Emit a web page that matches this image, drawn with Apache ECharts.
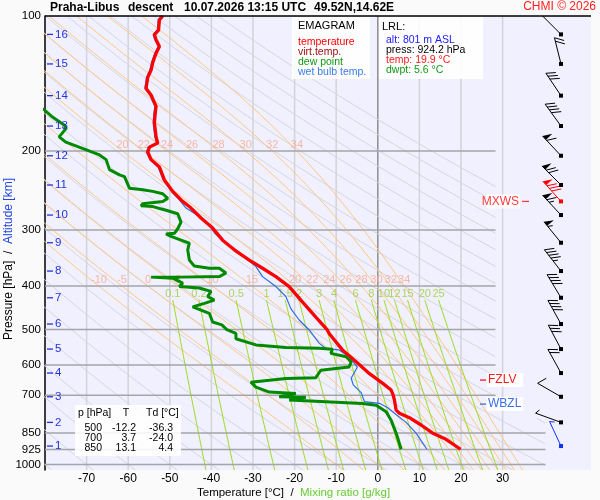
<!DOCTYPE html>
<html lang="en">
<head>
<meta charset="UTF-8">
<title>Emagram Praha-Libus</title>
<script src="https://cdn.jsdelivr.net/npm/echarts@6/dist/echarts.min.js"></script>
<style>
    html, body { margin: 0; padding: 0; background: #fafafa; }
    #chart { width: 600px; height: 500px; }
</style>
</head>
<body>
<div id="chart"></div>
<script>
const pressureTicks = [100, 200, 300, 400, 500, 600, 700, 850, 925, 1000];
const tempTicks = [-70, -60, -50, -40, -30, -20, -10, 0, 10, 20, 30];

// background families of the diagram (parameters)
const dryThetas = [-80, -70, -60, -50, -40, -30, -20, -10, 0, 10, 20, 30, 40, 50, 60, 70, 80, 90, 100, 110, 120, 130, 140, 150, 160, 170, 180];
const moistThetas = [-10, -5, 0, 5, 10, 15, 20, 22, 24, 26, 28, 30, 32, 34];
const moistUpperLabels = [20, 22, 24, 26, 28, 30, 32, 34];
const mixRatios = [0.1, 0.2, 0.5, 1, 1.5, 2, 3, 4, 6, 8, 10, 12, 15, 20, 25];

// profiles: [temperature °C, pressure hPa]
const tempProfile = [[-51.7,100],[-52.5,102],[-52.7,107.5],[-53.7,110],[-53.3,113],[-52.5,117],[-53.3,121],[-54.1,127],[-54.5,132],[-55.3,137],[-55.7,145],[-54.5,150],[-53.3,159],[-53.5,164.5],[-53.7,173],[-53.3,186],[-52.9,192],[-54.9,196],[-55.3,201],[-54.5,209],[-52.5,217],[-51.3,232],[-49.3,246],[-47.3,257],[-44.9,268],[-42.5,282],[-39.7,297],[-37.3,316],[-34.5,332],[-30.9,350],[-27.7,365],[-24.5,381],[-21.3,401],[-18.5,430],[-14.9,469],[-12.2,500],[-11.7,510],[-8.5,555],[-5.2,590],[-2.0,627],[1.2,659],[3.2,682],[3.7,700],[4.0,718],[4.4,756],[5.2,768],[7.6,786],[10.4,816],[13.1,850],[16.4,878],[19.9,924.2]];
const dewProfile = [[-84,155],[-80.1,162],[-78.2,168],[-75.4,175],[-74.9,178],[-76.6,186],[-75.0,191],[-71.8,196],[-66.9,204],[-65.3,209],[-64.5,220],[-62.1,226],[-60.9,228],[-59.7,242],[-56.5,244],[-54.1,246],[-51.7,249],[-50.5,255],[-51.7,259],[-56.5,262],[-56.9,265],[-54.1,266],[-50.9,271],[-48.1,276],[-47.3,288],[-48.1,298],[-48.9,305],[-50.9,306],[-49.7,310],[-47.3,316],[-45.3,321],[-45.7,332],[-45.3,350],[-44.1,361],[-40.5,365],[-38.1,365],[-36.5,374],[-38.1,381],[-47.7,382],[-54.5,382],[-49.3,384],[-46.9,394],[-47.7,401],[-42.9,404],[-40.1,411],[-40.9,422],[-39.3,430],[-41.7,437],[-44.5,445],[-40.5,460],[-39.7,481],[-37.5,488],[-36.3,500],[-34.1,510],[-34.1,524],[-29.3,541],[-22.1,548],[-14.1,550],[-10.9,553],[-11.3,565],[-7.6,575],[-6.4,590],[-6.9,606],[-13.7,616],[-14.5,632],[-14.9,640],[-22.1,643],[-30.5,655],[-29.3,672],[-26.1,689],[-19.7,694],[-23.7,706],[-17.3,708],[-21.3,718],[-3.7,731],[-0.4,737],[2.0,762],[3.2,796],[4.4,850],[5.0,885],[5.6,924.2]];
const wetProfile = [[-52.0,100],[-52.8,102],[-53.0,107.5],[-54.0,110],[-53.6,113],[-52.8,117],[-53.6,121],[-54.4,127],[-54.8,132],[-55.6,137],[-56.0,145],[-54.8,150],[-53.6,159],[-53.8,164.5],[-54.0,173],[-53.6,186],[-53.2,192],[-55.2,196],[-55.6,201],[-54.8,209],[-52.8,217],[-51.6,232],[-49.6,246],[-47.7,257],[-46.1,268],[-42.9,280],[-40.6,292],[-39.2,305],[-36.5,321],[-34.1,332],[-31.7,347],[-29.3,362],[-27.7,381],[-24.5,401],[-22.1,422],[-20.9,449],[-18.9,476],[-16.5,501],[-14.1,536],[-12.5,551],[-9.3,555],[-6.9,575],[-4.9,606],[-6.4,642],[-5.9,664],[-4.0,691],[-3.2,724],[0.4,730],[2.3,746],[4.4,773],[6.8,805],[9.2,851],[11.8,924.2]];

// altitude marks and winds at each km
const heightKm = [16, 15, 14, 13, 12, 11, 10, 9, 8, 7, 6, 5, 4, 3, 2, 1];
const heightP = [109.9, 127.9, 150.5, 175.9, 204.9, 238.1, 277.8, 320.2, 370.3, 424.7, 486, 552.6, 625, 705.9, 805.1, 909.2];
const windDir = [315, 346, 326, 324, 317, 315, 317, 321, 322, 329, 331, 332, 331, 300, 290, 335];
const windKt = [10, 20, 30, 40, 60, 70, 65, 55, 45, 40, 40, 30, 20, 10, 5, 5];

// special levels
const levelNames = ['MXWS', 'FZLV', 'WBZL'];
const levelP = [259, 648, 733];
const levelColors = ['#ff3b3b', '#ff1a1a', '#3a6fe8'];
const mxwsDir = 318, mxwsKt = 80;

// summary table and launch info
const tableP = [500, 700, 850];
const tableT = [-12.2, 3.7, 13.1];
const tableTd = [-36.3, -24.0, 4.4];
const lrlAlt = 801, lrlPress = 924.2, lrlTemp = 19.9, lrlDwpt = 5.6;

// ---------- diagram helpers ----------
const FONT = '"Liberation Sans", Arial, sans-serif';
const T_MIN = -80, T_MAX = 51.25, P_TOP = 100, P_BOT = 1028;
const KAPPA = 0.2857;
const MIX_TOP = 430;

function rightEdge(p) { return p < 790 ? 28.3 : 40.3; }

const samples = [];
for (let i = 0; i <= 240; i++) samples.push(P_TOP * Math.pow(P_BOT / P_TOP, i / 240));

function satVap(tc) { return 6.112 * Math.exp(17.67 * tc / (tc + 243.5)); }
function dTdp(T, p) {
    const es = satVap(T - 273.15);
    const rs = 0.622 * es / (p - es);
    return (287.04 * T + 2.501e6 * rs) / (1005.7 + 2.501e6 * 2.501e6 * rs * 0.622 / (287.04 * T * T)) / p;
}
function moistT(thw, p) {
    let T = thw + 273.15, q = 1000;
    const n = 40, h = (p - 1000) / n;
    for (let i = 0; i < n; i++) {
        const k1 = dTdp(T, q), k2 = dTdp(T + h * k1 / 2, q + h / 2);
        const k3 = dTdp(T + h * k2 / 2, q + h / 2), k4 = dTdp(T + h * k3, q + h);
        T += h * (k1 + 2 * k2 + 2 * k3 + k4) / 6;
        q += h;
    }
    return T - 273.15;
}
function dryT(th, p) { return (th + 273.15) * Math.pow(p / 1000, KAPPA) - 273.15; }
function mixT(w, p) {
    const l = Math.log(w * p / (622 + w) / 6.112);
    return 243.5 * l / (17.67 - l);
}

// split a curve into the parts left of the diagram's right edge
function clipRuns(fn) {
    const runs = [];
    let cur = [], prev = null;
    samples.forEach(p => {
        const t = fn(p), inside = t <= rightEdge(p);
        if (prev && prev.inside !== inside) {
            const fa = prev.t - rightEdge(prev.p), fb = t - rightEdge(p);
            const f = fa / (fa - fb);
            cur.push([prev.t + f * (t - prev.t), prev.p + f * (p - prev.p)]);
            if (!inside) { runs.push(cur); cur = []; }
        }
        if (inside) cur.push([t, p]);
        prev = { p, t, inside };
    });
    if (cur.length > 1) runs.push(cur);
    return runs;
}

function poly(points, color, width, z) {
    return {
        type: 'line', data: points, symbol: 'none', silent: true, z: z,
        lineStyle: { color: color, width: width }, emphasis: { disabled: true }
    };
}

const series = [];
tempTicks.forEach(t => series.push(poly([[t, P_TOP], [t, P_BOT]], t === 0 ? '#8e8e8e' : '#d3d3d9', 1.5, 1)));
dryThetas.forEach(th => clipRuns(p => dryT(th, p)).forEach(r => series.push(poly(r, '#d5d5da', 1, 2))));
moistThetas.forEach(th => clipRuns(p => moistT(th, p)).forEach(r => series.push(poly(r, '#ffc683', 1, 3))));
mixRatios.forEach(w => {
    const pts = [[mixT(w, MIX_TOP), MIX_TOP]];
    samples.filter(p => p > MIX_TOP).forEach(p => pts.push([mixT(w, p), p]));
    series.push(poly(pts, '#9cdb1e', 1, 4));
});
pressureTicks.slice(1).forEach(p => series.push(poly([[T_MIN, p], [rightEdge(p), p]], '#a5a5a8', 1.5, 4)));

// line labels
function labelSeries(data, color) {
    return {
        type: 'scatter', data: data, symbolSize: 1, silent: true, z: 5,
        itemStyle: { color: 'rgba(0,0,0,0)' },
        label: { show: true, position: 'top', distance: 0, formatter: d => String(d.value[2]), color: color, fontSize: 11, fontFamily: FONT }
    };
}
series.push(labelSeries(moistThetas.map(th => [moistT(th, 400), 400, th]), '#f7a98d'));
series.push(labelSeries(moistUpperLabels.map(th => [moistT(th, 200), 200, th]), '#f7a98d'));
series.push(labelSeries(mixRatios.map(w => [mixT(w, MIX_TOP), MIX_TOP, w]), '#9ccc3a'));

// profiles
series.push(poly(wetProfile, '#2a6ee6', 1.2, 10));
series.push(poly(dewProfile, '#008a00', 3, 11));
series.push(poly(tempProfile, '#ff0000', 3.3, 12));

// altitude marks on the left
series.push({
    type: 'custom', silent: true, z: 13,
    data: heightP.map((p, i) => [T_MIN, p, heightKm[i]]),
    renderItem: (params, api) => {
        const pt = api.coord([T_MIN, api.value(1)]);
        return {
            type: 'group', children: [
                { type: 'line', shape: { x1: pt[0] + 2, y1: pt[1], x2: pt[0] + 8, y2: pt[1] }, style: { stroke: '#2233dd', lineWidth: 1.3 } },
                { type: 'text', style: { x: pt[0] + 10, y: pt[1], text: String(api.value(2)), fill: '#2233dd', font: '11.5px ' + FONT, verticalAlign: 'middle' } }
            ]
        };
    }
});

// wind barbs
function barb(bx, by, dir, kt, c) {
    const r = dir * Math.PI / 180, ux = Math.sin(r), uy = -Math.cos(r);
    const px = -uy, py = ux;
    const vx = 0.866 * px - 0.5 * ux, vy = 0.866 * py - 0.5 * uy;
    const L = 27, tx = bx + ux * L, ty = by + uy * L;
    const kids = [
        { type: 'line', shape: { x1: bx, y1: by, x2: tx, y2: ty }, style: { stroke: c, lineWidth: 1 } },
        { type: 'rect', shape: { x: bx - 2, y: by - 2, width: 4, height: 4 }, style: { fill: c } }
    ];
    let s = kt, pos = 0;
    while (s >= 50) {
        const ax = tx - ux * pos, ay = ty - uy * pos;
        kids.push({ type: 'polygon', shape: { points: [[ax, ay], [ax - ux * 5, ay - uy * 5], [ax + vx * 10, ay + vy * 10]] }, style: { fill: c } });
        pos += 6; s -= 50;
    }
    while (s >= 10) {
        const ax = tx - ux * pos, ay = ty - uy * pos;
        kids.push({ type: 'line', shape: { x1: ax, y1: ay, x2: ax + vx * 10, y2: ay + vy * 10 }, style: { stroke: c, lineWidth: 1 } });
        pos += 3.5; s -= 10;
    }
    if (s >= 5) {
        const ax = tx - ux * pos, ay = ty - uy * pos;
        kids.push({ type: 'line', shape: { x1: ax, y1: ay, x2: ax + vx * 5, y2: ay + vy * 5 }, style: { stroke: c, lineWidth: 1 } });
    }
    return kids;
}
const barbColors = ['#000000', '#ff0000', '#1030ff'];
const barbRows = heightP.map((p, i) => [T_MAX, p, windDir[i], windKt[i], i === heightP.length - 1 ? 2 : 0]);
barbRows.push([T_MAX, levelP[0], mxwsDir, mxwsKt, 1]);
series.push({
    type: 'custom', silent: true, z: 14, clip: true,
    data: barbRows,
    renderItem: (params, api) => {
        const pt = api.coord([T_MAX, api.value(1)]);
        return { type: 'group', children: barb(pt[0] - 30, pt[1], api.value(2), api.value(3), barbColors[api.value(4)]) };
    }
});

// special level markers
series.push({
    type: 'custom', silent: true, z: 15,
    data: levelP.map((p, i) => [T_MAX, p, i]),
    renderItem: (params, api) => {
        const i = api.value(2), pt = api.coord([T_MAX, api.value(1)]);
        const c = levelColors[i], x0 = pt[0], y = pt[1];
        const font = '12px ' + FONT;
        if (i === 0) {
            return {
                type: 'group', children: [
                    { type: 'rect', shape: { x: x0 - 105, y: y - 7, width: 34, height: 14 }, style: { fill: 'rgba(255,255,255,0.9)' } },
                    { type: 'text', style: { x: x0 - 72, y: y, text: levelNames[i], fill: c, font: font, align: 'right', verticalAlign: 'middle' } },
                    { type: 'line', shape: { x1: x0 - 69, y1: y, x2: x0 - 62, y2: y }, style: { stroke: c, lineWidth: 1.3 } }
                ]
            };
        }
        return {
            type: 'group', children: [
                { type: 'rect', shape: { x: x0 - 104, y: y - 7, width: 36, height: 14 }, style: { fill: 'rgba(255,255,255,0.9)' } },
                { type: 'line', shape: { x1: x0 - 111, y1: y, x2: x0 - 105, y2: y }, style: { stroke: c, lineWidth: 1.3 } },
                { type: 'text', style: { x: x0 - 103, y: y, text: levelNames[i], fill: c, font: font, verticalAlign: 'middle' } }
            ]
        };
    }
});

// ---------- static texts ----------
function txt(x, y, text, color, size, extra) {
    return {
        type: 'text', x: x, y: y, z: 100,
        style: Object.assign({ text: text, fill: color, font: size + 'px ' + FONT, verticalAlign: 'middle' }, extra || {})
    };
}
function box(x, y, w, h) {
    return { type: 'rect', z: 99, shape: { x: x, y: y, width: w, height: h }, style: { fill: 'rgba(255,255,255,0.88)' } };
}
const graphic = [];
const titleParts = ['Praha-Libus', 'descent', '10.07.2026 13:15 UTC', '49.52N,14.62E'];
const titleX = [50, 128, 184, 314];
titleParts.forEach((t, i) => graphic.push(txt(titleX[i], 8, t, '#000', 12, { font: 'bold 12px ' + FONT })));
graphic.push(txt(596, 7, 'CHMI © 2026', '#ff2020', 12, { align: 'right' }));
graphic.push({ type: 'line', z: 100, shape: { x1: 45, y1: 16, x2: 591, y2: 16 }, style: { stroke: '#000', lineWidth: 1.5 } });

graphic.push(box(292, 17, 78, 62));
graphic.push(txt(298, 26, 'EMAGRAM', '#000', 11));
const legendItems = ['temperature', 'virt.temp.', 'dew point', 'wet bulb temp.'];
const legendColors = ['#ff0000', '#a01010', '#119911', '#3a7ae8'];
legendItems.forEach((t, i) => graphic.push(txt(298, 42 + i * 10, t, legendColors[i], 10.5)));

graphic.push(box(379, 17, 104, 62));
graphic.push(txt(382, 27, 'LRL:', '#000', 11));
graphic.push(txt(386, 40, 'alt: ' + lrlAlt + ' m ASL', '#1a1aff', 10.5));
graphic.push(txt(386, 50, 'press: ' + lrlPress.toFixed(1) + ' hPa', '#000', 10.5));
graphic.push(txt(386, 60, 'temp: ' + lrlTemp.toFixed(1) + ' °C', '#ff1a1a', 10.5));
graphic.push(txt(386, 70, 'dwpt: ' + lrlDwpt.toFixed(1) + ' °C', '#119911', 10.5));

graphic.push(box(75, 405, 106, 51));
graphic.push(txt(78, 413, 'p [hPa]', '#000', 10.5));
graphic.push(txt(126, 413, 'T', '#000', 10.5, { align: 'center' }));
graphic.push(txt(146, 413, 'Td [°C]', '#000', 10.5));
tableP.forEach((p, i) => {
    const y = 428 + i * 10.3;
    graphic.push(txt(102, y, String(p), '#000', 10.5, { align: 'right' }));
    graphic.push(txt(136, y, tableT[i].toFixed(1), '#000', 10.5, { align: 'right' }));
    graphic.push(txt(173, y, tableTd[i].toFixed(1), '#000', 10.5, { align: 'right' }));
});

graphic.push({
    type: 'text', z: 100, x: 197, y: 493,
    style: {
        text: '{a|Temperature [°C]}  /  {b|Mixing ratio [g/kg]}', font: '11.5px ' + FONT, verticalAlign: 'middle',
        rich: { a: { fill: '#000', font: '11.5px ' + FONT }, b: { fill: '#66cc33', font: '11.5px ' + FONT } }
    }
});
graphic.push({
    type: 'text', z: 100, x: 9, y: 259, rotation: Math.PI / 2,
    style: {
        text: '{a|Pressure [hPa]}  /  {b|Altitude [km]}', font: '12px ' + FONT, align: 'center', verticalAlign: 'middle',
        rich: { a: { fill: '#000', font: '12px ' + FONT }, b: { fill: '#2244ee', font: '12px ' + FONT } }
    }
});

const chart = echarts.init(document.getElementById('chart'));
chart.setOption({
    backgroundColor: '#fafafa',
    animation: false,
    grid: { left: 45, right: 9, top: 16, bottom: 30, show: true, backgroundColor: '#f0f0ff', borderWidth: 0 },
    xAxis: {
        type: 'value', min: T_MIN, max: T_MAX,
        axisLine: { show: false }, axisTick: { show: false }, splitLine: { show: false },
        axisLabel: { customValues: tempTicks, color: '#000', fontSize: 12, fontFamily: FONT, margin: 3 }
    },
    yAxis: {
        type: 'log', logBase: 10, min: P_TOP, max: P_BOT, inverse: true,
        axisLine: { show: true, onZero: false, lineStyle: { color: '#000', width: 1.5 } },
        axisTick: { show: false }, splitLine: { show: false },
        axisLabel: { customValues: pressureTicks, formatter: v => String(Math.round(v)), color: '#000', fontSize: 11.5, fontFamily: FONT, margin: 4 }
    },
    series: series,
    graphic: graphic
});
</script>
</body>
</html>
